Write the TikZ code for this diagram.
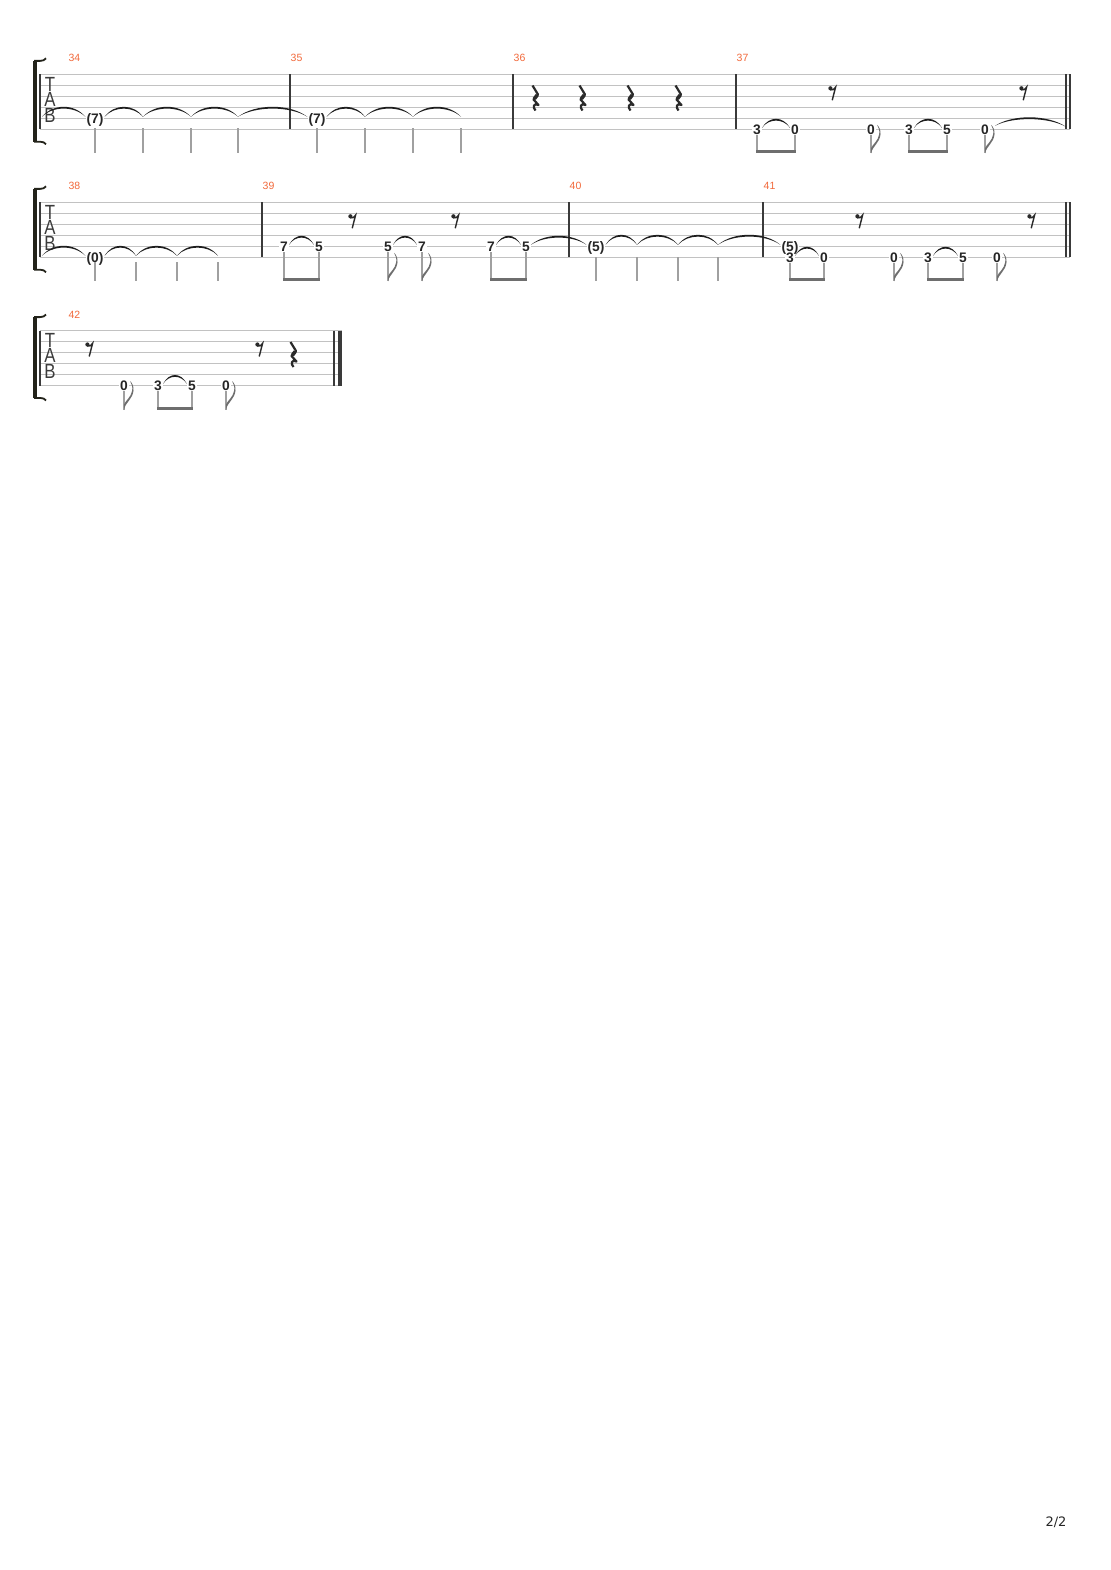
\documentclass[tikz,border=0pt]{standalone}
\usepackage{fontspec}
\setmainfont{Liberation Sans}
\newfontfamily\pagefont{DejaVu Sans}
\usetikzlibrary{calc}
\definecolor{numorange}{HTML}{F26A3C}
\definecolor{staffgray}{HTML}{C2C2C2}
\definecolor{barcol}{HTML}{3A3A3A}
\definecolor{stemgray}{HTML}{A0A0A0}
\definecolor{beamgray}{HTML}{6E6E6E}
\definecolor{tiecol}{HTML}{1E1E1E}
\definecolor{inkcol}{HTML}{262626}
\definecolor{restink}{HTML}{2A2A2A}
\definecolor{bracketcol}{HTML}{23231A}
\definecolor{tabcol}{HTML}{3C3C3C}

\tikzset{
  staffline/.style={draw=staffgray, line width=1pt},
  barline/.style={draw=barcol, line width=1.3pt},
  stemline/.style={draw=stemgray, line width=1.3pt},
  beamline/.style={draw=beamgray, line width=3pt, shorten <=-0.65pt, shorten >=-0.65pt},
  fret/.style={font=\bfseries\fontsize{13.8}{13.8}\selectfont, text=inkcol, fill=white,
    inner xsep=1pt, inner ysep=0.6pt, text height=9.9pt, text depth=0pt},
  mnum/.style={text=numorange, font=\fontsize{10.5}{10.5}\selectfont, inner sep=0pt, anchor=west},
  tabl/.style={text=tabcol, font=\fontsize{20.5}{15.5}\selectfont, inner sep=0pt, align=center},
}

% tie between two named points; optional height
\newcommand\tiearc[3][9]{%
  \path ([yshift=1.5pt]#2) coordinate (tieA) ([yshift=1.5pt]#3) coordinate (tieB);
  \fill[tiecol] (tieA) .. controls ($(tieA)!0.25!(tieB)+(0,{-1.333*#1})$) and ($(tieA)!0.75!(tieB)+(0,{-1.333*#1})$) .. (tieB)
     .. controls ($(tieA)!0.75!(tieB)+(0,{-1.333*#1+2.4})$) and ($(tieA)!0.25!(tieB)+(0,{-1.333*#1+2.4})$) .. (tieA) -- cycle;
}
% stem from a note node down to the end line
\newcommand\notestem[2]{\draw[stemline] (#1.south) -- (#1.south |- #2);}
% eighth flag at the bottom of a stem
\newcommand\noteflag[2]{%
  \begin{scope}[shift={(#1.south |- #2)}]
    \fill[beamgray] (0,0) .. controls (2,-8) and (8.5,-10) .. (9.5,-19)
      .. controls (10,-23) and (8,-27) .. (6,-28.5)
      .. controls (7.5,-26) and (8.8,-23) .. (8.2,-19)
      .. controls (7,-12) and (1.5,-9) .. (0,-5) -- cycle;
  \end{scope}}
% quarter rest: x, top
\newcommand\qrest[2]{%
  \begin{scope}[shift={(#1,#2)}]
    \draw[restink, line width=2.2pt, line join=round] (-2.5,0) -- (3,9) -- (-1.5,14) -- (3.5,19.5)
      .. controls (-1,17) and (-3,21.5) .. (0.5,25);
    \draw[restink, line width=3.6pt] (2.2,9.5) -- (-0.6,13.3);
  \end{scope}}
% eighth rest: x, top
\newcommand\erest[2]{%
  \begin{scope}[shift={(#1,#2)}]
    \fill[restink] (-1.6,2) circle (2.1pt);
    \draw[restink, line width=1.4pt] (-1.6,3.6) .. controls (0.8,4.2) and (2.6,2.8) .. (3.6,0.8) -- (0.2,14);
  \end{scope}}
% system bracket and TAB clef: top line y, name prefix
\newcommand\sysstart[2]{%
  \fill[bracketcol] (33.2,{#1-13.6}) rectangle (36.6,{#1+67.6});
  \draw[bracketcol, line width=1.8pt] (34,{#1-13.4}) -- (40,{#1-13.4}) .. controls (43,{#1-13.4}) and (44.5,{#1-14.2}) .. (46,{#1-16});
  \draw[bracketcol, line width=1.8pt] (34,{#1+67.4}) -- (40,{#1+67.4}) .. controls (43,{#1+67.4}) and (44.5,{#1+68.2}) .. (46,{#1+70});
  \node[tabl, anchor=north] (#2tab) at (50,{#1+2.6}) {\scalebox{0.82}[1]{T}\\\scalebox{0.82}[1]{A}\\\scalebox{0.82}[1]{B}};
}

\begin{document}
\begin{tikzpicture}[x=1pt,y=-1pt]
\useasboundingbox[fill=white] (0,0) rectangle (1110,1570);

%================ SYSTEM 1 =================
\foreach \k in {0,...,5} \draw[staffline] (40,{74.3+11*\k}) -- (1070,{74.3+11*\k});
\foreach \bx in {40,290,513,736,1066,1070} \draw[barline] (\bx,74.3) -- (\bx,129.3);
\sysstart{74.3}{s1}
\coordinate (e1) at (0,153.3);
\coordinate (b1) at (0,151.8);
\coordinate (sus1) at (0,128.3);

\node[mnum] (m34) at (68.3,58.3) {34};
\node[mnum] (m35) at (290.5,58.3) {35};
\node[mnum] (m36) at (513.5,58.3) {36};
\node[mnum] (m37) at (736.5,58.3) {37};

% m34
\coordinate (L1) at (42,118.3);
\node[fret] (n34a) at (95,118.3) {(7)};
\coordinate (h34b) at (143,118.3);
\coordinate (h34c) at (191,118.3);
\coordinate (h34d) at (238,118.3);
\foreach \c in {n34a,h34b,h34c,h34d} \draw[stemline] (\c |- sus1) -- (\c |- e1);
% m35
\node[fret] (n35a) at (317,118.3) {(7)};
\coordinate (h35b) at (365,118.3);
\coordinate (h35c) at (413,118.3);
\coordinate (h35d) at (461,118.3);
\foreach \c in {n35a,h35b,h35c,h35d} \draw[stemline] (\c |- sus1) -- (\c |- e1);
\tiearc[10]{L1}{n34a.west}
\tiearc[10]{n34a.east}{h34b}
\tiearc[10]{h34b}{h34c}
\tiearc[10]{h34c}{h34d}
\tiearc[10]{h34d}{n35a.west}
\tiearc[10]{n35a.east}{h35b}
\tiearc[10]{h35b}{h35c}
\tiearc[10]{h35c}{h35d}
% m36
\qrest{535}{85.5}
\qrest{582}{85.5}
\qrest{630}{85.5}
\qrest{678}{85.5}
% m37
\node[fret] (n37a) at (757,129.3) {3};
\node[fret] (n37b) at (795,129.3) {0};
\node[fret] (n37c) at (871,129.3) {0};
\node[fret] (n37d) at (909,129.3) {3};
\node[fret] (n37e) at (947,129.3) {5};
\node[fret] (n37f) at (985,129.3) {0};
\foreach \c in {n37a,n37b,n37c,n37d,n37e,n37f} \notestem{\c}{e1}
\draw[beamline] (n37a.south |- b1) -- (n37b.south |- b1);
\draw[beamline] (n37d.south |- b1) -- (n37e.south |- b1);
\noteflag{n37c}{e1}
\noteflag{n37f}{e1}
\erest{832}{86.3}
\erest{1023}{86.3}
\tiearc{n37a.east}{n37b.west}
\tiearc{n37d.east}{n37e.west}
\coordinate (f37) at ([xshift=5pt,yshift=2pt]n37f.east);
\coordinate (R1) at (1066,128.3);
\tiearc{f37}{R1}

%================ SYSTEM 2 =================
\foreach \k in {0,...,5} \draw[staffline] (40,{202.3+11*\k}) -- (1070,{202.3+11*\k});
\foreach \bx in {40,262,569,763,1066,1070} \draw[barline] (\bx,202.3) -- (\bx,257.3);
\sysstart{202.3}{s2}
\coordinate (e2) at (0,281.3);
\coordinate (b2) at (0,279.8);
\coordinate (sus2a) at (0,262.3);
\coordinate (sus2b) at (0,257.3);

\node[mnum] (m38) at (68.3,186.3) {38};
\node[mnum] (m39) at (262.5,186.3) {39};
\node[mnum] (m40) at (569.5,186.3) {40};
\node[mnum] (m41) at (763.5,186.3) {41};

% m38
\coordinate (L2) at (42,257.3);
\node[fret] (n38a) at (95,257.3) {(0)};
\coordinate (h38b) at (136,257.3);
\coordinate (h38c) at (177,257.3);
\coordinate (h38d) at (218,257.3);
\foreach \c in {n38a,h38b,h38c,h38d} \draw[stemline] (\c |- sus2a) -- (\c |- e2);
\tiearc[10]{L2}{n38a.west}
\tiearc[10]{n38a.east}{h38b}
\tiearc[10]{h38b}{h38c}
\tiearc[10]{h38c}{h38d}
% m39
\node[fret] (n39a) at (284,246.3) {7};
\node[fret] (n39b) at (319,246.3) {5};
\node[fret] (n39c) at (388,246.3) {5};
\node[fret] (n39d) at (422,246.3) {7};
\node[fret] (n39e) at (491,246.3) {7};
\node[fret] (n39f) at (526,246.3) {5};
\foreach \c in {n39a,n39b,n39c,n39d,n39e,n39f} \notestem{\c}{e2}
\draw[beamline] (n39a.south |- b2) -- (n39b.south |- b2);
\draw[beamline] (n39e.south |- b2) -- (n39f.south |- b2);
\noteflag{n39c}{e2}
\noteflag{n39d}{e2}
\erest{352}{214.3}
\erest{455}{214.3}
\tiearc{n39a.east}{n39b.west}
\tiearc{n39c.east}{n39d.west}
\tiearc{n39e.east}{n39f.west}
% m40
\node[fret] (n40a) at (596,246.3) {(5)};
\coordinate (h40b) at (637,246.3);
\coordinate (h40c) at (678,246.3);
\coordinate (h40d) at (718,246.3);
\foreach \c in {n40a,h40b,h40c,h40d} \draw[stemline] (\c |- sus2b) -- (\c |- e2);
\tiearc{n39f.east}{n40a.west}
\tiearc[10]{n40a.east}{h40b}
\tiearc[10]{h40b}{h40c}
\tiearc[10]{h40c}{h40d}
% m41
\node[fret] (n41b) at (790,257.3) {3};
\node[fret] (n41a) at (790,246.3) {(5)};
\node[fret] (n41c) at (824,257.3) {0};
\node[fret] (n41d) at (894,257.3) {0};
\node[fret] (n41e) at (928,257.3) {3};
\node[fret] (n41f) at (963,257.3) {5};
\node[fret] (n41g) at (997,257.3) {0};
\tiearc[10]{h40d}{n41a.west}
\foreach \c in {n41b,n41c,n41d,n41e,n41f,n41g} \notestem{\c}{e2}
\draw[beamline] (n41b.south |- b2) -- (n41c.south |- b2);
\draw[beamline] (n41e.south |- b2) -- (n41f.south |- b2);
\noteflag{n41d}{e2}
\noteflag{n41g}{e2}
\erest{859}{214.3}
\erest{1031}{214.3}
\tiearc{n41b.east}{n41c.west}
\tiearc{n41e.east}{n41f.west}

%================ SYSTEM 3 =================
\foreach \k in {0,...,5} \draw[staffline] (40,{330.5+11*\k}) -- (342,{330.5+11*\k});
\foreach \bx in {40,334} \draw[barline] (\bx,330.5) -- (\bx,385.5);
\draw[draw=barcol, line width=4pt] (340,330.5) -- (340,385.5);
\sysstart{330.5}{s3}
\coordinate (e3) at (0,409.5);
\coordinate (b3) at (0,408);

\node[mnum] (m42) at (68.3,314.5) {42};

\erest{89}{342.5}
\node[fret] (n42a) at (124,385.5) {0};
\node[fret] (n42b) at (158,385.5) {3};
\node[fret] (n42c) at (192,385.5) {5};
\node[fret] (n42d) at (226,385.5) {0};
\foreach \c in {n42a,n42b,n42c,n42d} \notestem{\c}{e3}
\draw[beamline] (n42b.south |- b3) -- (n42c.south |- b3);
\noteflag{n42a}{e3}
\noteflag{n42d}{e3}
\tiearc{n42b.east}{n42c.west}
\erest{259}{342.5}
\qrest{293}{342}

% page number
\node[font=\pagefont\fontsize{13}{13}\selectfont, text=inkcol, inner sep=0pt] (pg) at (1056,1522) {2/2};
\end{tikzpicture}
\end{document}
